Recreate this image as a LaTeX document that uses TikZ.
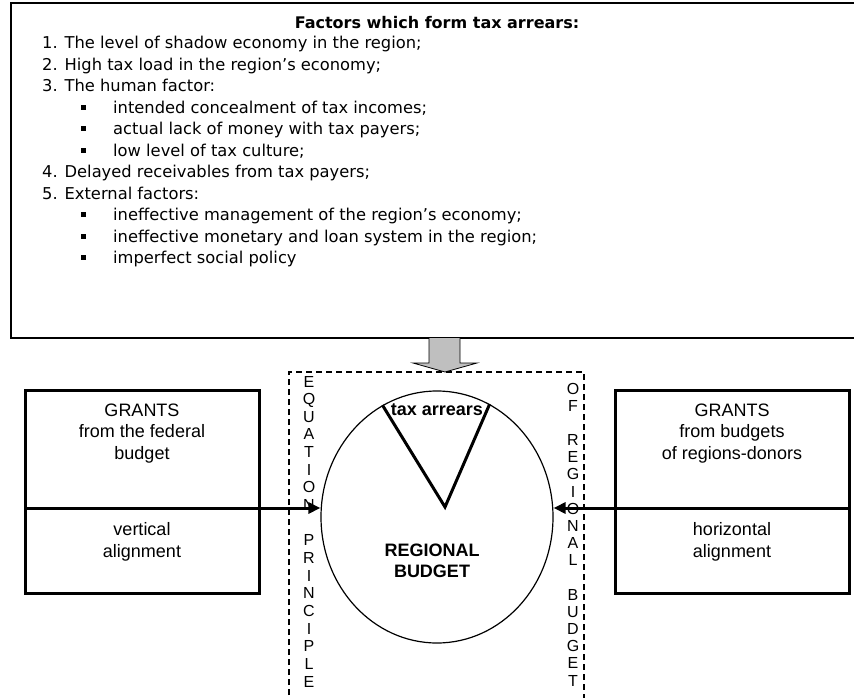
\documentclass[tikz,border=0pt]{standalone}
\usepackage{fontspec}
\setmainfont{Liberation Sans}
\newfontfamily\lucfont{DejaVu Sans}
\usetikzlibrary{positioning,calc,arrows.meta,shapes.geometric}

\begin{document}
\begin{tikzpicture}[x=1pt, y=-1pt,
    factbox/.style={draw, line width=2pt, minimum width=852pt,
      minimum height=335pt, inner sep=0},
    factitem/.style={anchor=base west, inner sep=0,
      font=\lucfont\fontsize{16.3}{20}\selectfont},
    grantbox/.style={draw, line width=3pt, minimum width=234pt,
      inner sep=0, outer sep=0},
    granttext/.style={inner sep=0, align=center,
      font=\fontsize{18}{21.5}\selectfont},
    vletter/.style={anchor=base, inner sep=0,
      font=\fontsize{16}{16}\selectfont},
    feed/.style={line width=3pt, -{Triangle[length=12pt,width=11pt]}},
    wedge/.style={line width=3pt, line join=miter},
    frame/.style={line width=2pt, dash pattern=on 6pt off 4pt}]

\useasboundingbox (0,0) rectangle (854,698);

% factors of tax arrears
\node[factbox] (factors) at (437,170.5) {};
\node[anchor=base, inner sep=0,
  font=\lucfont\bfseries\fontsize{16}{20}\selectfont] (title) at (437,29)
  {Factors which form tax arrears:};
\foreach \ind/\txt [count=\i] in {
    0/1. The level of shadow economy in the region;,
    0/2. High tax load in the region’s economy;,
    0/3. The human factor:,
    1/intended concealment of tax incomes;,
    1/actual lack of money with tax payers;,
    1/low level of tax culture;,
    0/4. Delayed receivables from tax payers;,
    0/5. External factors:,
    1/ineffective management of the region’s economy;,
    1/ineffective monetary and loan system in the region;,
    1/imperfect social policy}
{
  \node[factitem] (item\i) at ({42+71*\ind}, {49+21.45*(\i-1)}) {\txt};
  \ifnum\ind=1
    \fill (80.5, {49+21.45*(\i-1)-8.5}) rectangle +(5,5);
  \fi
}

% grey arrow down
\filldraw[fill=black!25, draw=black, line width=0.8pt]
  (429,338) -- (429,363) -- (413,363) -- (445,372) -- (477,363)
  -- (460,363) -- (460,338);

% dashed frame
\draw[frame] (289,705) |- (584,372) -- (584,705);

% regional budget
\node[draw, ellipse, minimum width=232pt, minimum height=252pt,
  inner sep=0, line width=1.2pt] (budget) at (437,517) {};
\coordinate (vtip) at ($(budget.center)+(8,-10)$);
\draw[wedge] (budget.116) -- (vtip) -- (budget.65);
\node[anchor=base, inner sep=0,
  font=\bfseries\fontsize{18}{18}\selectfont] (arrears) at (437,415.5)
  {tax arrears};
\node[inner sep=0, align=center,
  font=\bfseries\fontsize{18}{21}\selectfont] (budgettext) at (432,560.5)
  {REGIONAL\\BUDGET};

% grants
\node[grantbox, minimum height=118pt] (fedtop) at (142,449) {};
\node[grantbox, minimum height=85pt, below=0pt of fedtop] (fedlow) {};
\node[granttext, below=13.5pt of fedtop.north] (fedtext)
  {GRANTS\\from the federal\\budget};
\node[granttext, below=14.5pt of fedlow.north] (vertext)
  {vertical\\alignment};

\node[grantbox, minimum height=118pt] (dontop) at (732,449) {};
\node[grantbox, minimum height=85pt, below=0pt of dontop] (donlow) {};
\node[granttext, below=13.5pt of dontop.north] (dontext)
  {GRANTS\\from budgets\\of regions-donors};
\node[granttext, below=14.5pt of donlow.north] (hortext)
  {horizontal\\alignment};

\draw[feed] (fedtop.south west) -- (fedtop.south west -| budget.west);
\draw[feed] (dontop.south east) -- (dontop.south east -| budget.east);

% vertical captions
\foreach \ch [count=\i] in {E,Q,U,A,T,I,O,N,{},P,R,I,N,C,I,P,L,E}
  \node[vletter] (eq\i) at (309, {387+17.65*(\i-1)}) {\ch};
\foreach \ch [count=\i] in {O,F,{},R,E,G,I,O,N,A,L,{},B,U,D,G,E,T}
  \node[vletter] (ob\i) at (573, {394+17.18*(\i-1)}) {\ch};

\end{tikzpicture}
\end{document}
